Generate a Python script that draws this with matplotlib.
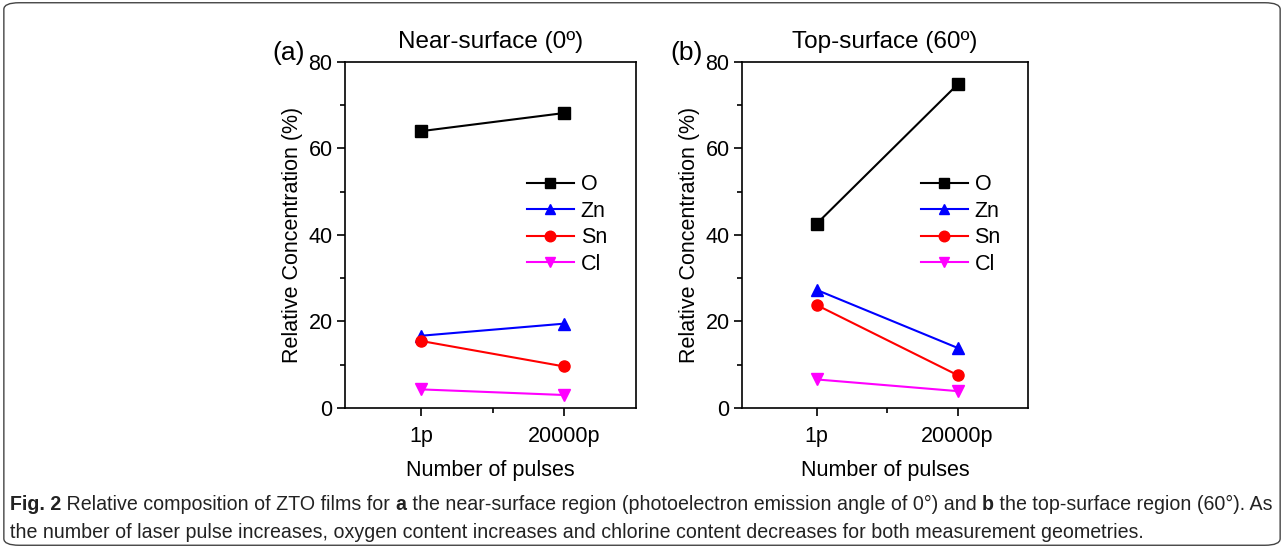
import matplotlib.pyplot as plt
from matplotlib.patches import FancyBboxPatch
from matplotlib.ticker import MultipleLocator, FixedLocator

plt.rcParams['font.family'] = ['Liberation Sans', 'DejaVu Sans']

# data
pulses = ["1p", "20000p"]
elements = ["O", "Zn", "Sn", "Cl"]
near_O = [64.0, 68.2]
near_Zn = [16.7, 19.5]
near_Sn = [15.5, 9.6]
near_Cl = [4.3, 3.0]
top_O = [42.6, 74.8]
top_Zn = [27.3, 13.9]
top_Sn = [23.8, 7.6]
top_Cl = [6.6, 3.9]

colors = ['black', 'blue', 'red', 'magenta']
markers = ['s', '^', 'o', 'v']

fig = plt.figure(figsize=(12.84, 5.48), dpi=100)

# rounded border around the whole figure
border = FancyBboxPatch((0.003, 0.005), 0.994, 0.99, boxstyle="round,pad=0,rounding_size=0.012",
                        transform=fig.transFigure, fill=False, edgecolor='#444444', linewidth=1.0)
fig.patches.append(border)

panels = [
    ([0.2687, 0.2555, 0.2265, 0.6314], "(a)", "Near-surface (0º)", [near_O, near_Zn, near_Sn, near_Cl]),
    ([0.5779, 0.2555, 0.2227, 0.6314], "(b)", "Top-surface (60º)", [top_O, top_Zn, top_Sn, top_Cl]),
]

x = [1, 2]
for pos, tag, title, series in panels:
    ax = fig.add_axes(pos)
    for name, vals, c, m in zip(elements, series, colors, markers):
        ax.plot(x, vals, color=c, marker=m, markersize=8, linewidth=1.5, label=name)
    ax.set_xlim(0.47, 2.5)
    ax.set_ylim(0, 80)
    ax.set_xticks(x)
    ax.set_xticklabels(pulses)
    ax.xaxis.set_minor_locator(FixedLocator([1.5]))
    ax.yaxis.set_major_locator(MultipleLocator(20))
    ax.yaxis.set_minor_locator(MultipleLocator(10))
    ax.tick_params(which='major', direction='out', length=6, width=1.2, labelsize=15.5)
    ax.tick_params(which='minor', direction='out', length=3.5, width=1.2)
    ax.tick_params(axis='x', pad=7)
    ax.tick_params(axis='y', pad=3)
    for s in ax.spines.values():
        s.set_linewidth(1.2)
    ax.set_xlabel("Number of pulses", fontsize=15.5, labelpad=9)
    ax.set_ylabel("Relative Concentration (%)", fontsize=15.5, labelpad=4)
    ax.set_title(title, fontsize=17.5, pad=10)
    ax.text(-0.25, 0.99, tag, transform=ax.transAxes, fontsize=19, ha='left', va='bottom')
    ax.legend(loc='upper left', bbox_to_anchor=(0.625, 0.675), frameon=False, fontsize=15.5,
              handlelength=2.2, labelspacing=0.25, handletextpad=0.3, borderaxespad=0,
              borderpad=0, markerscale=0.95)

# caption with bold parts, placed piece by piece
cap_font = ['Liberation Sans', 'DejaVu Sans']
cap_size = 14.1
lines = [
    [("Fig. 2", True), (" Relative composition of ZTO films for ", False), ("a", True),
     (" the near-surface region (photoelectron emission angle of 0°) and ", False), ("b", True),
     (" the top-surface region (60°). As", False)],
    [("the number of laser pulse increases, oxygen content increases and chlorine content decreases for both measurement geometries.", False)],
]
fig.canvas.draw()
renderer = fig.canvas.get_renderer()
y_lines = [1 - 510 / 548, 1 - 538 / 548]
for parts, yl in zip(lines, y_lines):
    xpos = 10 / 1284
    for txt, bold in parts:
        t = fig.text(xpos, yl, txt, fontsize=cap_size, family=cap_font,
                     fontweight='bold' if bold else 'normal', ha='left', va='baseline', color='#222222')
        bb = t.get_window_extent(renderer=renderer)
        xpos += bb.width / fig.bbox.width

fig.savefig("out.png", dpi=100)
